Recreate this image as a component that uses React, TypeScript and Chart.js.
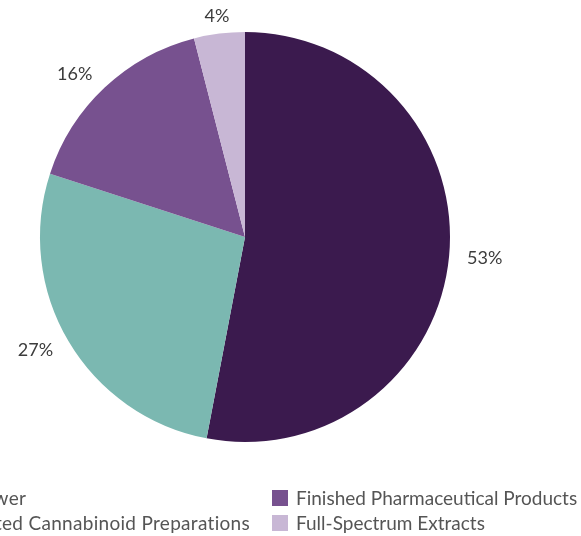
import React, { useEffect, useRef } from "react";
import { Chart, registerables } from "chart.js";

Chart.register(...registerables);

const categories = [
  "Raw Flower",
  "Formulated Cannabinoid Preparations",
  "Finished Pharmaceutical Products",
  "Full-Spectrum Extracts",
];
const shares = [53, 27, 16, 4];
const colors = ["#3B1A4E", "#7BB8B1", "#77518F", "#C8B7D5"];
const legendColumns = [[0, 1], [2, 3]];

const FONT = "Lato, 'Open Sans', sans-serif";

const labelPlugin = {
  id: "outsideLabels",
  afterDatasetsDraw(chart: any) {
    const ctx = chart.ctx;
    const meta = chart.getDatasetMeta(0);
    ctx.save();
    ctx.font = `18px ${FONT}`;
    ctx.fillStyle = "#3c3c3c";
    meta.data.forEach((arc: any, i: number) => {
      const p = arc.getProps(["x", "y", "startAngle", "endAngle", "outerRadius"], true);
      const mid = (p.startAngle + p.endAngle) / 2;
      const r = p.outerRadius + 18;
      const c = Math.cos(mid);
      const s = Math.sin(mid);
      const x = p.x + c * r;
      const y = p.y + s * r;
      ctx.textAlign = c > 0.3 ? "left" : c < -0.3 ? "right" : "center";
      ctx.textBaseline = "middle";
      ctx.fillText(`${shares[i]}%`, x, y);
    });
    ctx.restore();
  },
};

export default function App() {
  const ref = useRef<HTMLCanvasElement>(null);
  useEffect(() => {
    if (!ref.current) return;
    const chart = new Chart(ref.current, {
      type: "pie",
      data: {
        labels: categories,
        datasets: [
          {
            data: shares,
            backgroundColor: colors,
            borderWidth: 0,
          },
        ],
      },
      options: {
        animation: false,
        responsive: false,
        maintainAspectRatio: false,
        layout: { padding: { left: 40, right: 131, top: 32, bottom: 94 } },
        plugins: {
          legend: { display: false },
          tooltip: { enabled: false },
        },
      },
      plugins: [labelPlugin],
    });
    return () => chart.destroy();
  }, []);

  return (
    <div
      style={{
        position: "fixed",
        left: 0,
        top: 0,
        width: 581,
        height: 536,
        overflow: "hidden",
        background: "#ffffff",
        fontFamily: FONT,
      }}
    >
      <canvas ref={ref} width={581} height={536} style={{ position: "absolute", left: 0, top: 0 }} />
      {legendColumns.map((col, ci) => (
        <div
          key={ci}
          style={
            ci === 0
              ? { position: "absolute", right: 581 - 250, top: 485, letterSpacing: "0.3px" }
              : { position: "absolute", left: 272, top: 485 }
          }
        >
          {col.map((idx) => (
            <div
              key={idx}
              style={{
                display: "flex",
                alignItems: "center",
                height: 25,
                whiteSpace: "nowrap",
                fontSize: 19,
                color: "#555555",
              }}
            >
              <span
                style={{
                  display: "inline-block",
                  width: 16,
                  height: 16,
                  background: colors[idx],
                  marginRight: 8,
                  flex: "none",
                }}
              />
              <span>{categories[idx]}</span>
            </div>
          ))}
        </div>
      ))}
    </div>
  );
}
